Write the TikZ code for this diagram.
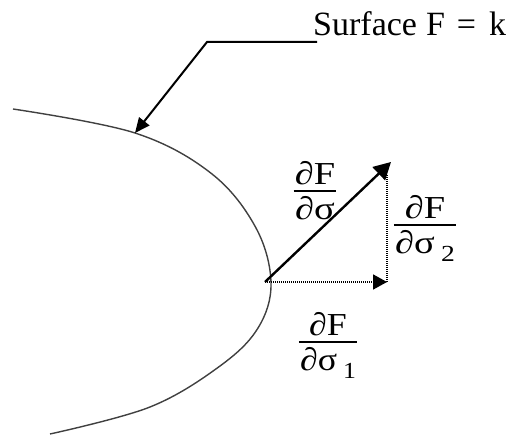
\documentclass[tikz,border=0pt]{standalone}
\usepackage{fontspec}
\setmainfont{Liberation Serif}
\usetikzlibrary{arrows.meta}
\setlength{\arrayrulewidth}{1.1pt}
\newcommand{\pfrac}[2]{\renewcommand{\arraystretch}{0}%
  \begin{tabular}{@{\hspace{1pt}}c@{\hspace{1pt}}}\rule[-6pt]{0pt}{24pt}#1\\\hline\rule[-6pt]{0pt}{34pt}#2\end{tabular}}
\newcommand{\lowsub}[1]{\,\raisebox{-0.25em}{\fontsize{23}{23}\selectfont #1}}
\newcommand{\wide}[2]{\scalebox{#1}[1]{#2}}
\tikzset{
  wordhead/.style={-{Triangle[length=15pt,width=13pt]}},
  leader/.style={line width=2pt,wordhead},
  partial/.style={line width=1.8pt,dash pattern=on 1.2pt off 0.8pt},
  fraclabel/.style={inner sep=0pt,font=\fontsize{32}{36}\selectfont}
}
\begin{document}
\begin{tikzpicture}[x=1pt,y=-1pt]
  \useasboundingbox (0,0) rectangle (516,435);
  \clip (0,0) rectangle (516,435);
  \draw[line width=1.4pt,black!75] plot[smooth,tension=0.6] coordinates {
    (13,109) (135,133) (212,174) (256,228) (271,283)
    (258,328) (220,366) (150,407) (50,434)};
  \node[anchor=base west,inner sep=0pt,font=\fontsize{34}{38}\selectfont] (surf) at (313,36)
    {Surface\hspace{9pt}F\hspace{12pt}=\hspace{13pt}k};
  \coordinate (bend) at (207,42);
  \coordinate (hit) at (135,133);
  \coordinate (base) at (265,282);
  \coordinate (gradtip) at (391,162);
  \coordinate (onetip) at (387,282);
  \coordinate (twotop) at (387,175);
  \draw[leader] (surf.base west |- bend) ++(4,0) -- (bend) -- (hit);
  \draw[line width=2.4pt,-{Triangle[length=17pt,width=18pt]}] (base) -- (gradtip);
  \draw[partial,-{Triangle[length=14pt,width=15pt]}] (base) -- (onetip);
  \draw[partial] (onetip) -- (twotop);
  \node[fraclabel] (dsig) at (315,193.5) {\wide{1.2}{\pfrac{∂F}{∂σ}}};
  \node[fraclabel] (dsig2) at (425,228.5) {\wide{1.2}{\pfrac{∂F}{∂σ\lowsub{2}}}};
  \node[fraclabel] (dsig1) at (328,345.5) {\wide{1.12}{\pfrac{∂F}{∂σ\lowsub{1}}}};
\end{tikzpicture}
\end{document}
